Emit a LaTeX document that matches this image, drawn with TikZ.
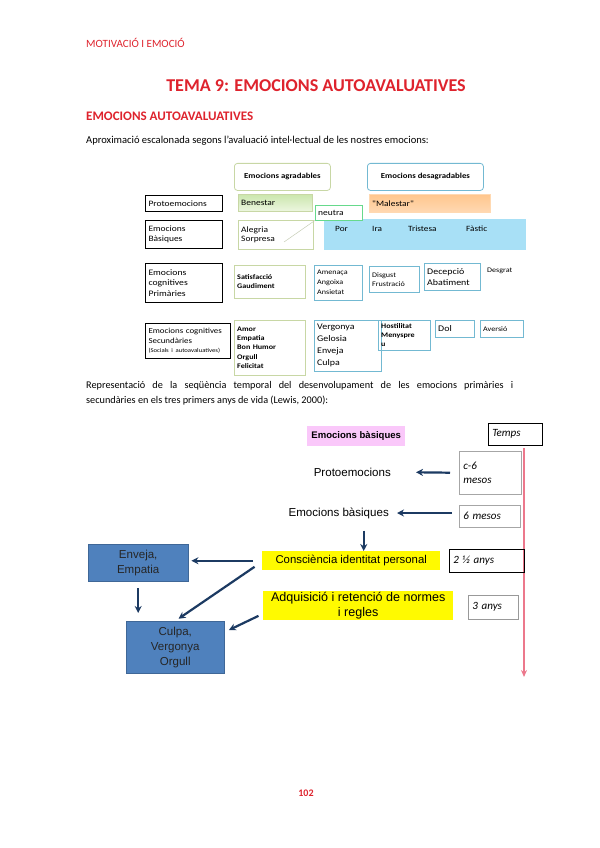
\documentclass[tikz,border=0pt]{standalone}
\usepackage{fontspec}
\setmainfont{Carlito}
\newfontfamily\arialf{Liberation Sans}
\newfontfamily\figfont[FakeStretch=1.15]{Carlito}
\usetikzlibrary{arrows.meta,positioning}
\definecolor{hdrred}{RGB}{222,35,45}
\definecolor{navyarr}{RGB}{28,58,98}
\definecolor{cellblue}{RGB}{79,129,189}
\definecolor{greenline}{RGB}{200,215,165}
\definecolor{blueline}{RGB}{115,185,210}
\definecolor{skyfill}{RGB}{168,224,246}
\definecolor{pinkfill}{RGB}{250,200,250}
\definecolor{timered}{RGB}{236,120,140}
\definecolor{hiyellow}{RGB}{255,250,0}
\definecolor{benesttop}{RGB}{203,230,172}
\definecolor{benestbot}{RGB}{236,246,224}
\newlength\pu
\setlength\pu{0.035cm}

\begin{document}
\begin{tikzpicture}[x=1\pu, y=-1\pu, >=Stealth,
  cell/.style 2 args={anchor=north west, inner sep=3\pu, text width=#1\pu,
    minimum height=#2\pu, align=left, font=\figfont\fontsize{8.2}{9.6}\selectfont},
  tbox/.style 2 args={anchor=north west, inner sep=0pt, minimum width=#1\pu,
    minimum height=#2\pu, align=center},
  catbox/.style={draw, line width=1pt},
  hand/.style={font=\itshape\fontsize{11}{13}\selectfont},
  arial/.style={font=\arialf\fontsize{#1}{15}\selectfont},
  navy/.style={->, navyarr, line width=2.2pt, >={Stealth[length=7pt,width=7pt]}}]
  \useasboundingbox (0,0) rectangle (599,848);

  % page head
  \node[anchor=west, inner sep=0pt, text=hdrred, font=\fontsize{11}{13}\selectfont] (running) at (86,43) {MOTIVACIÓ I EMOCIÓ};
  \node[text=hdrred, inner sep=0pt, font=\bfseries\fontsize{18}{21}\selectfont] (title) at (316,86) {TEMA 9: EMOCIONS AUTOAVALUATIVES};
  \node[anchor=west, inner sep=0pt, text=hdrred, font=\bfseries\fontsize{13}{15}\selectfont] (section) at (86,116) {EMOCIONS AUTOAVALUATIVES};
  \node[anchor=west, inner sep=0pt, font=\fontsize{10.5}{12}\selectfont] (intro) at (86,141)
    {Aproximació escalonada segons l'avaluació intel·lectual de les nostres emocions:};

  % ladder of emotions
  \node[tbox={96}{27}, draw=greenline, rounded corners=3\pu, line width=0.8pt, font=\figfont\bfseries\fontsize{7.6}{9}\selectfont] (agrad) at (234,163) {Emocions agradables};
  \node[tbox={116}{27}, draw=blueline, rounded corners=3\pu, line width=0.8pt, font=\figfont\bfseries\fontsize{7.6}{9}\selectfont] (desagrad) at (367,163) {Emocions desagradables};

  \node[cell={71}{16}, catbox] (proto) at (145,195) {Protoemocions};
  \node[cell={68}{17}, top color=benesttop, bottom color=benestbot, draw=greenline] (benestar) at (238,194) {Benestar};
  \node[cell={115}{18}, top color=orange!45, bottom color=orange!30, draw=orange!30] (malestar) at (369,194) {"Malestar"};

  \node[cell={71}{28}, catbox] (basiques) at (145,220) {Emocions\\Bàsiques};
  \node[cell={69}{29}, draw=greenline] (alegria) at (238,220) {Alegria\\Sorpresa};
  \node[tbox={201}{30}, fill=skyfill, draw=skyfill] (negatives) at (324,219) {};
  \node[anchor=west, inner sep=0pt, font=\figfont\fontsize{8}{9}\selectfont] (por) at (335,229) {Por};
  \node[anchor=west, inner sep=0pt, font=\figfont\fontsize{8}{9}\selectfont] (ira) at (372,229) {Ira};
  \node[anchor=west, inner sep=0pt, font=\figfont\fontsize{8}{9}\selectfont] (tristesa) at (408,229) {Tristesa};
  \node[anchor=west, inner sep=0pt, font=\figfont\fontsize{8}{9}\selectfont] (fastic) at (466,229) {Fàstic};
  \node[cell={41}{15}, fill=white, draw=green!50!teal!60] (neutra) at (315,205) {neutra};
  \coordinate (sorpend) at (284,242);
  \draw[greenline!80!black!60, line width=0.5pt] (neutra.south west) -- (sorpend);

  \node[cell={71}{39}, catbox, font=\figfont\fontsize{8.4}{10.6}\selectfont] (cogprim) at (145,263) {Emocions\\cognitives\\Primàries};
  \node[cell={65}{33}, draw=greenline, font=\figfont\bfseries\fontsize{7}{9}\selectfont] (satisf) at (234,265) {Satisfacció\\Gaudiment\\[8\pu]};
  \node[cell={42}{35}, draw=blueline, font=\figfont\fontsize{7}{10}\selectfont] (amenaca) at (314,265) {Amenaça\\Angoixa\\Ansietat};
  \node[cell={44}{26}, draw=blueline, font=\figfont\fontsize{7}{9}\selectfont] (disgust) at (369,266) {Disgust\\Frustració};
  \node[cell={50}{27}, draw=blueline, font=\figfont\fontsize{8.6}{11}\selectfont] (decepcio) at (424,263) {Decepció\\Abatiment};
  \node[anchor=west, inner sep=0pt, font=\figfont\fontsize{7}{8}\selectfont] (desgrat) at (487,271) {Desgrat};

  \node[cell={79}{35}, catbox, font=\figfont\fontsize{7.7}{9.6}\selectfont] (cogsec) at (145,323)
    {Emocions cognitives\\Secundàries\\{\fontsize{5.8}{6.5}\selectfont(Socials i autoavaluatives)}};
  \node[cell={65}{55}, draw=greenline, font=\figfont\bfseries\fontsize{7}{9.3}\selectfont] (amor) at (234,320) {Amor\\Empatia\\Bon Humor\\Orgull\\Felicitat};
  \node[cell={61}{51}, draw=blueline, font=\figfont\fontsize{8.6}{12}\selectfont] (vergonya) at (314,320) {Vergonya\\Gelosia\\Enveja\\Culpa};
  \node[cell={46}{30}, draw=blueline, font=\figfont\bfseries\fontsize{7}{9}\selectfont] (hostil) at (378,320) {Hostilitat\\Menyspre\\u};
  \node[cell={33}{17}, draw=blueline, font=\figfont\fontsize{8.6}{10}\selectfont] (dol) at (435,320) {Dol};
  \node[cell={37}{17}, draw=blueline, font=\figfont\fontsize{7}{9}\selectfont] (aversio) at (480,320) {Aversió};

  \node[anchor=north west, text width=427\pu, inner sep=0pt, align=justify, font=\fontsize{10.2}{15}\selectfont] (lewis) at (86,381)
    {Representació de la seqüència temporal del desenvolupament de les emocions primàries i\linebreak
     secundàries en els tres primers anys de vida (Lewis, 2000):};

  % time line (Lewis)
  \node[tbox={98}{20}, fill=pinkfill, font=\arialf\bfseries\fontsize{9.5}{11}\selectfont] (bashead) at (307,426) {Emocions bàsiques};
  \node[cell={46}{22}, draw, line width=0.5pt, hand, inner sep=4\pu] (temps) at (488,423) {Temps};
  \coordinate (ttop) at (524,448);
  \coordinate (tbot) at (524,677);
  \draw[timered, line width=1.6pt, -{Stealth[length=7pt,width=6pt]}] (ttop) -- (tbot);

  \node[cell={54}{43}, draw=gray!70, line width=0.6pt, hand, inner sep=4\pu] (mesosa) at (459,451) {c-6\\mesos};
  \node[cell={53}{22}, draw=gray!70, line width=0.6pt, hand, inner sep=4\pu] (mesosb) at (459,505) {6 mesos};
  \node[cell={67}{23}, draw, line width=0.6pt, hand, inner sep=4\pu] (anysa) at (449,549) {2 ½ anys};
  \node[cell={42}{24}, draw=gray!80, line width=0.6pt, hand, inner sep=4\pu] (anysb) at (468,595) {3 anys};

  \node[anchor=east, inner sep=0pt, arial=11.5] (protot) at (391,472) {Protoemocions};
  \node[anchor=east, inner sep=0pt, arial=11.5] (bast) at (389,513) {Emocions bàsiques};
  \node[tbox={178}{19}, fill=hiyellow, arial=11.3] (consc) at (262,551) {Consciència identitat personal};
  \node[tbox={190}{29}, fill=hiyellow, arial=12.5] (adquis) at (263,591) {Adquisició i retenció de normes\\i regles};
  \node[tbox={100}{37}, fill=cellblue, draw=cellblue!80!black, arial=11.5, text=black!85] (enveja) at (88,544) {Enveja,\\Empatia};
  \node[tbox={98}{52}, fill=cellblue, draw=cellblue!80!black, arial=11.5, text=black!85] (culpa) at (126,621) {Culpa,\\Vergonya\\Orgull};

  \draw[navy, shorten <=9\pu, shorten >=25\pu] (mesosa.west) -- (protot.east);
  \draw[navy, shorten <=7\pu, shorten >=8\pu] (mesosb.west |- bast.east) -- (bast.east);
  \draw[navy, shorten <=12\pu] ([xshift=25\pu]bast.south) -- ([xshift=25\pu]bast.south |- consc.north);
  \draw[navy, shorten <=9\pu, shorten >=3\pu] (consc.west) -- (consc.west -| enveja.east);
  \draw[navy, shorten <=9\pu, shorten >=4\pu] ([yshift=-1\pu]consc.west) -- (culpa.north);
  \draw[navy, shorten <=7\pu, shorten >=8\pu] (enveja.south) -- (enveja.south |- culpa.north);
  \draw[navy, shorten <=5\pu, shorten >=5\pu] ([yshift=-8\pu]adquis.west) -- ([yshift=15\pu]culpa.east);

  % folio
  \node[text=hdrred, inner sep=0pt, font=\bfseries\fontsize{10}{12}\selectfont] (folio) at (306,793) {102};
\end{tikzpicture}
\end{document}
